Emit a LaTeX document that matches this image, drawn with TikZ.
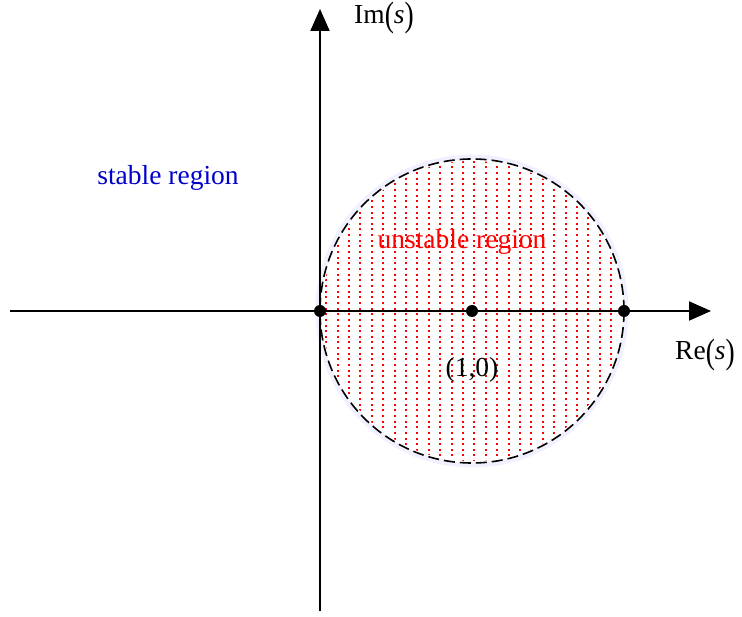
\documentclass[tikz,border=0pt]{standalone}
\usepackage{fontspec}
\setmainfont{Liberation Serif}
\usepackage{graphicx}
\usepackage{tikz}
\usetikzlibrary{arrows.meta}

% tall parentheses round the argument
\newcommand{\tallpar}[1]{\raisebox{-0.12em}{\scalebox{1}[1.28]{(}}#1\raisebox{-0.12em}{\scalebox{1}[1.28]{)}}}

\begin{document}
\begin{tikzpicture}[
    x=1pt, y=-1pt,
    axis/.style={
        line width=2pt,
        -{Triangle[length=22pt,width=19pt]}
    },
    label/.style={
        font=\fontsize{27.5}{30}\selectfont,
        inner sep=0pt,
        anchor=base
    },
    point/.style={
        circle,
        fill=black,
        inner sep=0pt,
        minimum size=12pt
    },
    reddot/.style={
        fill=red
    }
]
    \useasboundingbox (0,0) rectangle (742,617);

    % --- UNSTABLE REGION (dotted disc) ---
    \begin{scope}
        \clip (472,311) circle (150);
        \foreach \i in {-4,...,23} {
            \foreach \j in {-5,...,50} {
                \fill[reddot] ({360.3+11.4*\i-1},{184.3+5.65*\j-1}) rectangle ++(2,2);
            }
        }
    \end{scope}

    % --- CIRCLE ---
    \draw [blue!6, line width=5pt] (472,311) circle (154);
    \draw [black, line width=1.6pt, dash pattern=on 11pt off 5pt] (472,311) circle (152);

    % --- AXES ---
    \coordinate (xstart) at (10,311);
    \coordinate (xend) at (711,311);
    \coordinate (ystart) at (320,611);
    \coordinate (yend) at (320,9);
    \draw [axis] (xstart) -- (xend);
    \draw [axis] (ystart) -- (yend);

    % --- POINTS ---
    \node [point] (origin) at (320,311) {};
    \node [point] (center) at (472,311) {};
    \node [point] (rightpt) at (624,311) {};

    % --- LABELS ---
    \node [label] (imlabel) at (384,23.5) {Im\tallpar{\textit{s}}};
    \node [label] (relabel) at (705,360) {Re\tallpar{\textit{s}}};
    \node [label, text=blue!80!black] (stable) at (168,185) {stable region};
    \node [label, text=red] (unstable) at (462,249) {unstable region};
    \node [label] (onezero) at (472,376.5) {(1,0)};

\end{tikzpicture}
\end{document}
